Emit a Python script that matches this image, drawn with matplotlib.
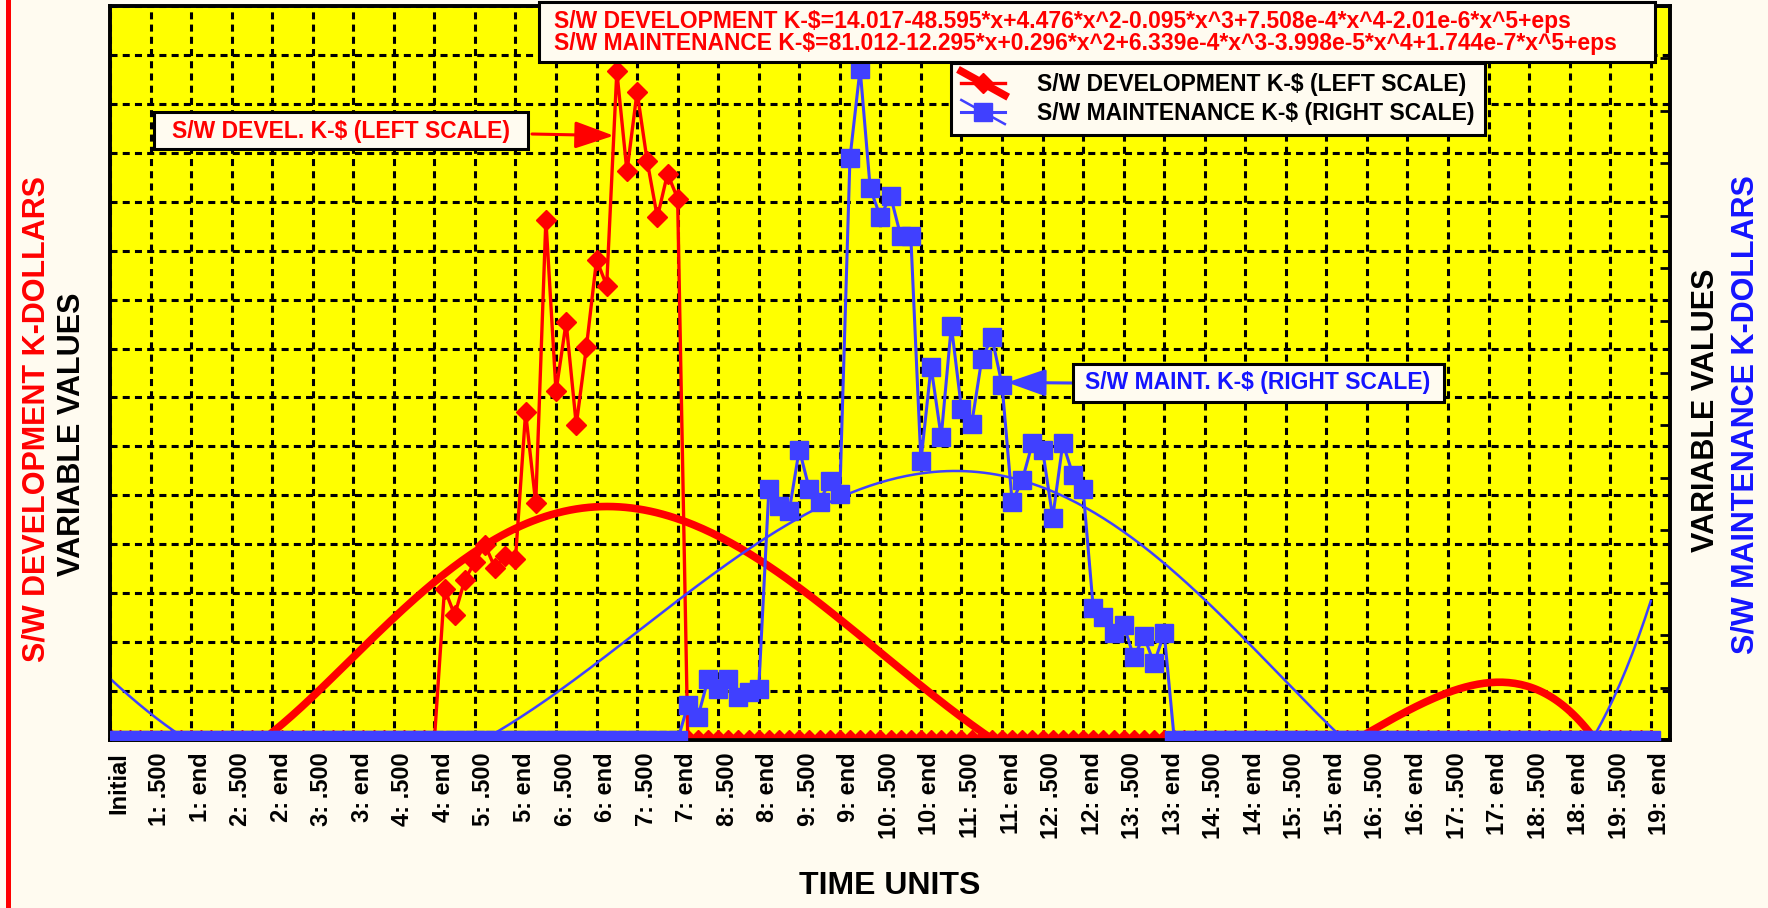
import numpy as np
import matplotlib
matplotlib.use('Agg')
import matplotlib.pyplot as plt
from matplotlib.lines import Line2D
from matplotlib.patches import Rectangle
from matplotlib.legend_handler import HandlerBase, HandlerTuple
from matplotlib.transforms import ScaledTranslation

plt.rcParams['font.family'] = ['Liberation Sans', 'DejaVu Sans']
plt.rcParams['font.weight'] = 'bold'

# time axis: 8 samples per time unit, ticks every half unit
n_points = 153
periods = list(range(1, 20))
tick_labels = ['Initial'] + [f'{p}: {s}' for p in periods for s in ('.500', 'end')]

# S/W development K-$ (left scale), non-zero samples start at index 33
dev_first = 33
dev_values = [618, 511, 654, 729, 797, 702, 754, 740, 1339, 968, 2127, 1425,
              1707, 1288, 1606, 1963, 1857, 2733, 2324, 2649, 2365, 2136, 2315, 2213]

# S/W maintenance K-$ (right scale), non-zero samples start at index 57
maint_first = 57
maint_values = [33, 22, 58, 49, 58, 41, 46, 49,
                239, 223, 218, 277, 239, 227, 247, 235,
                555, 640, 526, 499, 519, 481, 481,
                266, 356, 289, 395, 316, 301, 363, 384, 339,
                227, 248, 283, 277, 212, 283, 253, 239,
                126, 117, 102, 110, 79, 99, 73, 102]

eq_lines = ['S/W DEVELOPMENT K-$=14.017-48.595*x+4.476*x^2-0.095*x^3+7.508e-4*x^4-2.01e-6*x^5+eps',
            'S/W MAINTENANCE K-$=81.012-12.295*x+0.296*x^2+6.339e-4*x^3-3.998e-5*x^4+1.744e-7*x^5+eps']
legend_labels = ['S/W DEVELOPMENT K-$ (LEFT SCALE)', 'S/W MAINTENANCE K-$ (RIGHT SCALE)']

RED = '#FF0000'
BLUE = '#4040FF'
TXT_BLUE = '#1414FF'
BG = '#FFFBF0'
YELLOW = '#FFFF00'

x = np.arange(n_points)
dev = np.zeros(n_points)
dev[dev_first:dev_first + len(dev_values)] = dev_values
maint = np.zeros(n_points)
maint[maint_first:maint_first + len(maint_values)] = maint_values

# 5th order trend lines
dev_fit = np.polynomial.Polynomial.fit(x, dev, 5)
maint_fit = np.polynomial.Polynomial.fit(x, maint, 5)
xs = np.linspace(0, x[-1], 500)

W, H = 1768, 908


def fx(px):
    return px / W


def fy(py):
    return 1 - py / H


fig = plt.figure(figsize=(W / 100, H / 100), dpi=100, facecolor=BG)
ax1 = fig.add_axes([fx(110), fy(740), fx(1670) - fx(110), fy(6) - fy(740)])
ax1.set_facecolor(YELLOW)
ax2 = ax1.twinx()

red_fit, = ax1.plot(xs, dev_fit(xs), color=RED, lw=5.5, zorder=2)
red_data, = ax1.plot(x, dev, color=RED, lw=2.4, marker='D', ms=10, zorder=3)
blue_fit, = ax2.plot(xs, maint_fit(xs), color=BLUE, lw=1.8, zorder=2)
blue_data, = ax2.plot(x, maint, color=BLUE, lw=2.2, marker='s', ms=12.5, zorder=3)

ax1.set_xlim(0, 153.9)
ax1.set_ylim(0, 3000)
ax2.set_ylim(0, 700)

ax1.set_xticks(x[::4])
ax1.tick_params(axis='x', direction='in', length=7, width=2, pad=9)
ax1.set_xticklabels(tick_labels, rotation=90, fontsize=17, fontweight='bold', va='top')
# shift the rotated labels a little to the right of their ticks
off = ScaledTranslation(9 / 100, 0, fig.dpi_scale_trans)
for lab in ax1.get_xticklabels():
    lab.set_transform(lab.get_transform() + off)
ax1.set_yticks(np.arange(0, 3001, 200))
ax1.tick_params(axis='y', length=0, labelleft=False)
ax2.set_yticks(np.arange(0, 701, 50))
ax2.tick_params(axis='y', direction='in', length=7, width=2, labelright=False)

ax1.grid(True, color='black', linestyle=(0, (2.3, 1.7)), lw=2.2)
ax1.set_axisbelow(True)
for ax in (ax1, ax2):
    for sp in ax.spines.values():
        sp.set_linewidth(2.6)
        sp.set_color('black')


# legend handle: slanted trend line drawn across the data line
class SlantHandler(HandlerBase):
    def create_artists(self, legend, orig_handle, xdescent, ydescent,
                       width, height, fontsize, trans):
        ln = Line2D([-xdescent, -xdescent + width],
                    [-ydescent + 1.25 * height, -ydescent - 0.25 * height])
        self.update_prop(ln, orig_handle, legend)
        ln.set_transform(trans)
        return [ln]


leg = ax2.legend([(red_fit, red_data), (blue_fit, blue_data)], legend_labels,
                 handler_map={tuple: HandlerTuple(ndivide=1),
                              red_fit: SlantHandler(), blue_fit: SlantHandler()},
                 loc='upper left', bbox_to_anchor=(fx(951), fy(63)),
                 bbox_transform=fig.transFigure, borderaxespad=0,
                 fontsize=16.5, numpoints=1, handlelength=1.9, handletextpad=1.4,
                 borderpad=0.45, labelspacing=0.25, fancybox=False, framealpha=1,
                 facecolor=BG, edgecolor='black')
leg.get_frame().set_linewidth(2.2)
for t in leg.get_texts():
    t.set_fontweight('bold')


def box(x0, y0, x1, y1):
    fig.add_artist(Rectangle((fx(x0), fy(y1)), fx(x1) - fx(x0), fy(y0) - fy(y1),
                             transform=fig.transFigure, facecolor=BG,
                             edgecolor='black', lw=2.2, zorder=5))


# equation box
box(539, 2, 1655, 62)
fig.text(fx(554), fy(21.7), eq_lines[0], color=RED, fontsize=16.5, fontweight='bold',
         ha='left', va='center', zorder=6)
fig.text(fx(554), fy(43.3), eq_lines[1], color=RED, fontsize=16.5, fontweight='bold',
         ha='left', va='center', zorder=6)

# callouts
arrow = '-|>,head_length=1.2,head_width=0.42'
box(154, 112, 528, 149)
fig.text(fx(341), fy(131), 'S/W DEVEL. K-$ (LEFT SCALE)', color=RED, fontsize=16.5,
         fontweight='bold', ha='center', va='center', zorder=6)
ax1.annotate('', xy=(49.7, 2470), xycoords='data',
             xytext=(fx(532), fy(134)), textcoords='figure fraction',
             arrowprops=dict(arrowstyle=arrow, color=RED, lw=2.2,
                             mutation_scale=20, shrinkA=0, shrinkB=0))

box(1073, 364, 1444, 402)
fig.text(fx(1258), fy(383), 'S/W MAINT. K-$ (RIGHT SCALE)', color=TXT_BLUE, fontsize=16.5,
         fontweight='bold', ha='center', va='center', zorder=6)
ax2.annotate('', xy=(88.5, 341), xycoords='data',
             xytext=(fx(1072), fy(383)), textcoords='figure fraction',
             arrowprops=dict(arrowstyle=arrow, color=BLUE, lw=2.2,
                             mutation_scale=20, shrinkA=0, shrinkB=0))

# axis titles
fig.text(fx(890), fy(886), 'TIME UNITS', fontsize=23, fontweight='bold',
         ha='center', va='center')
fig.text(fx(36.5), fy(419), 'S/W DEVELOPMENT K-DOLLARS', color=RED, fontsize=22,
         fontweight='bold', rotation=90, ha='center', va='center')
fig.text(fx(72), fy(434), 'VARIABLE VALUES', color='black', fontsize=22,
         fontweight='bold', rotation=90, ha='center', va='center')
fig.text(fx(1706), fy(410), 'VARIABLE VALUES', color='black', fontsize=22,
         fontweight='bold', rotation=90, ha='center', va='center')
fig.text(fx(1746), fy(415), 'S/W MAINTENANCE K-DOLLARS', color=TXT_BLUE, fontsize=22,
         fontweight='bold', rotation=90, ha='center', va='center')

# red bar along the left edge
fig.add_artist(Line2D([fx(8), fx(8)], [0, 1], color=RED, lw=3.6,
                      transform=fig.transFigure))

fig.savefig('out.png', dpi=100, facecolor=BG)
